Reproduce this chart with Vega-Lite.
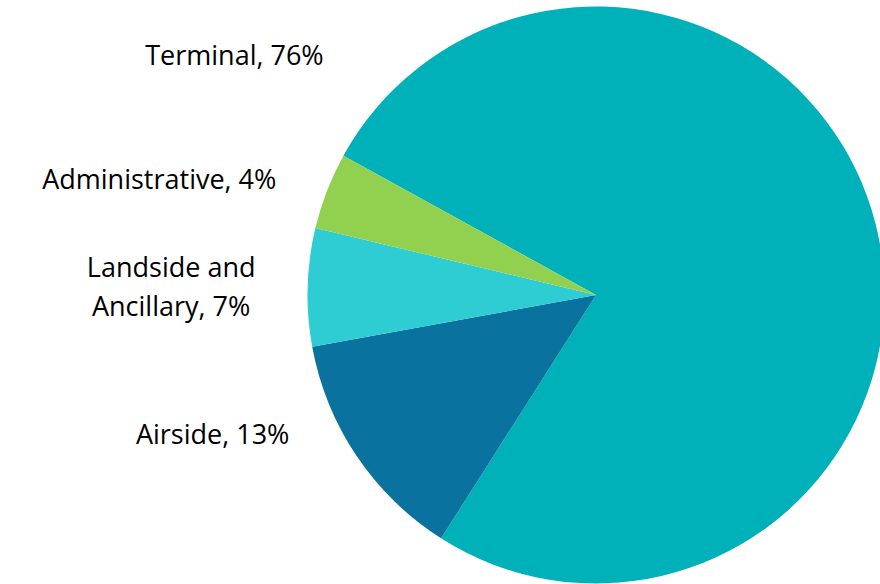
{
  "$schema": "https://vega.github.io/schema/vega-lite/v6.json",
  "width": 568,
  "height": 576,
  "autosize": {"type": "none"},
  "padding": {"left": 312, "top": 7, "right": 0, "bottom": 1},
  "background": "white",
  "view": {"stroke": null},
  "config": {"text": {"font": "Open Sans", "fontSize": 27, "color": "#000000", "align": "center", "baseline": "middle", "lineBreak": "\n", "lineHeight": 39}},
  "data": {
    "values": [
      {"category": "Terminal", "value": 76.0, "label": "Terminal, 76%"},
      {"category": "Airside", "value": 13.1, "label": "Airside, 13%"},
      {"category": "Landside and Ancillary", "value": 6.6, "label": "Landside and\nAncillary, 7%"},
      {"category": "Administrative", "value": 4.3, "label": "Administrative, 4%"}
    ]
  },
  "layer": [
    {
      "mark": {"type": "arc", "outerRadius": 288.5},
      "encoding": {
        "theta": {"field": "value", "type": "quantitative", "stack": true, "scale": {"domain": [0, 100], "range": [-1.0667, 5.2165]}},
        "order": {"field": "value", "sort": "descending"},
        "color": {
          "field": "category",
          "type": "nominal",
          "scale": {
            "domain": ["Terminal", "Airside", "Landside and Ancillary", "Administrative"],
            "range": ["#00B1B9", "#0A729F", "#2ECCD3", "#92D150"]
          },
          "legend": null
        }
      }
    },
    {
      "mark": {"type": "text", "radius": 425, "dy": -15},
      "encoding": {
        "theta": {"field": "value", "type": "quantitative", "stack": true},
        "order": {"field": "value", "sort": "descending"},
        "text": {"condition": {"test": "datum.category === 'Landside and Ancillary'", "field": "label", "type": "nominal"}, "value": ""}
      }
    },
    {
      "transform": [
        {"stack": "value", "groupby": [], "sort": [{"field": "value", "order": "descending"}], "as": ["v0", "v1"]},
        {"filter": {"field": "category", "equal": "Terminal"}}
      ],
      "mark": {"type": "text", "radius": 433.5, "dx": 18, "dy": -29},
      "encoding": {
        "theta": {"field": "v0", "type": "quantitative"},
        "text": {"field": "label"}
      }
    },
    {
      "transform": [
        {"stack": "value", "groupby": [], "sort": [{"field": "value", "order": "descending"}], "as": ["v0", "v1"]},
        {"filter": {"field": "category", "equal": "Administrative"}}
      ],
      "mark": {"type": "text", "radius": 451, "dx": 2, "dy": -9},
      "encoding": {
        "theta": {"field": "v0", "type": "quantitative"},
        "text": {"field": "label"}
      }
    },
    {
      "transform": [
        {"stack": "value", "groupby": [], "sort": [{"field": "value", "order": "descending"}], "as": ["v0", "v1"]},
        {"filter": {"field": "category", "equal": "Airside"}}
      ],
      "mark": {"type": "text", "radius": 408, "dx": 18, "dy": 68},
      "encoding": {
        "theta": {"field": "v1", "type": "quantitative"},
        "text": {"field": "label"}
      }
    }
  ]
}
